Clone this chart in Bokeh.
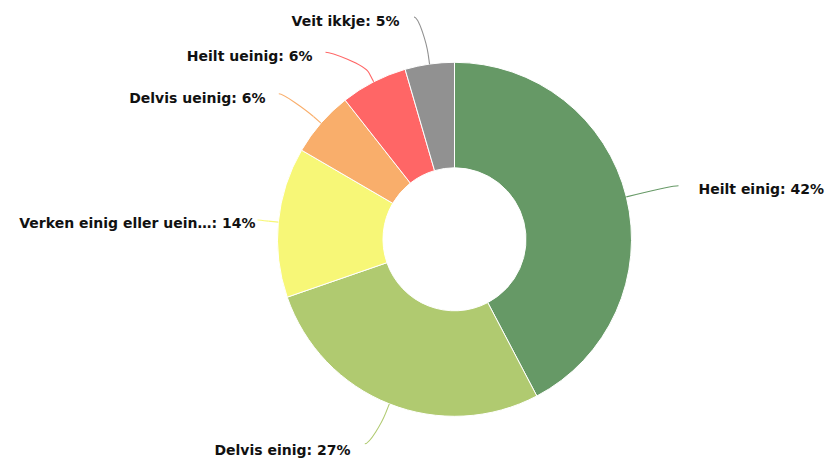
import math
from bokeh.plotting import figure
from bokeh.models import Range1d, ColumnDataSource
from bokeh.embed import file_html
from bokeh.resources import INLINE
from bokeh.core.properties import value

# ---- data ----
categories = ["Heilt einig", "Delvis einig", "Verken einig eller uein\u2026",
              "Delvis ueinig", "Heilt ueinig", "Veit ikkje"]
shares = [42.3, 27.4, 13.7, 6.0, 6.1, 4.5]
pct_labels = ["42%", "27%", "14%", "6%", "6%", "5%"]
colors = ["#669966", "#B0CA70", "#F7F777", "#F9AE6B", "#FF6666", "#919191"]

# ---- layout (page pixel coords, y down) ----
W, H = 825, 461
CX, CY = 454.0, 238.8
R_OUT, R_IN = 177.0, 71.5
# label anchor (x, y, align) and connector landing point next to label
label_pos = [(698, 188, "left"), (350, 449, "right"), (255, 222, "right"),
             (265, 97, "right"), (312, 55, "right"), (399, 20, "right")]
conn_end = [(678, 185.3), (364.3, 443.3), (257, 219.5),
            (278.3, 93.3), (325, 51.7), (413.5, 16.5)]


def Y(py):
    return H - py


p = figure(width=W, height=H, output_backend="svg", toolbar_location=None,
           x_range=Range1d(0, W), y_range=Range1d(0, H), min_border=0)
p.axis.visible = False
p.grid.visible = False
p.outline_line_color = None
p.background_fill_color = "white"

total = sum(shares)
starts, ends, mids = [], [], []
cum = 0.0
for s in shares:
    a0 = cum / total
    cum += s
    a1 = cum / total
    starts.append(math.pi / 2 - a0 * 2 * math.pi)
    ends.append(math.pi / 2 - a1 * 2 * math.pi)
    mids.append(((a0 + a1) / 2) * 2 * math.pi)  # clockwise from top

src = ColumnDataSource(dict(x=[CX] * len(shares), y=[Y(CY)] * len(shares),
                            start=starts, end=ends, color=colors))
p.annular_wedge(x="x", y="y", inner_radius=R_IN, outer_radius=R_OUT,
                start_angle="start", end_angle="end", direction="clock",
                fill_color="color", line_color="white", line_width=1, source=src)

# connectors
OFF = 10
for i, m in enumerate(mids):
    dx, dy = math.sin(m), -math.cos(m)
    px4, py4 = CX + R_OUT * dx, CY + R_OUT * dy
    px2, py2 = CX + (R_OUT + OFF) * dx, CY + (R_OUT + OFF) * dy
    pc2x, pc2y = CX + (R_OUT + 2 * OFF) * dx, CY + (R_OUT + 2 * OFF) * dy
    ex, ey = conn_end[i]
    sgn = -1 if label_pos[i][2] == "left" else 1
    c1x = ex + sgn * 5
    p.bezier(x0=[ex], y0=[Y(ey)], x1=[px2], y1=[Y(py2)],
             cx0=[c1x], cy0=[Y(ey)], cx1=[pc2x], cy1=[Y(pc2y)],
             line_color=colors[i], line_width=1.1)
    p.segment(x0=[px2], y0=[Y(py2)], x1=[px4], y1=[Y(py4)],
              line_color=colors[i], line_width=1.1)

# labels
for i, cat in enumerate(categories):
    lx, ly, al = label_pos[i]
    p.text(x=[lx], y=[Y(ly)], text=[f"{cat}: {pct_labels[i]}"],
           text_align=al, text_baseline="middle",
           text_font=value("DejaVu Sans"), text_font_style="bold",
           text_font_size="14px", text_color="#111111")

html = file_html(p, INLINE)
html = html.replace("<head>", "<head><style>html,body{margin:0;padding:0;overflow:hidden;}</style>", 1)
open("out.html", "w").write(html)
